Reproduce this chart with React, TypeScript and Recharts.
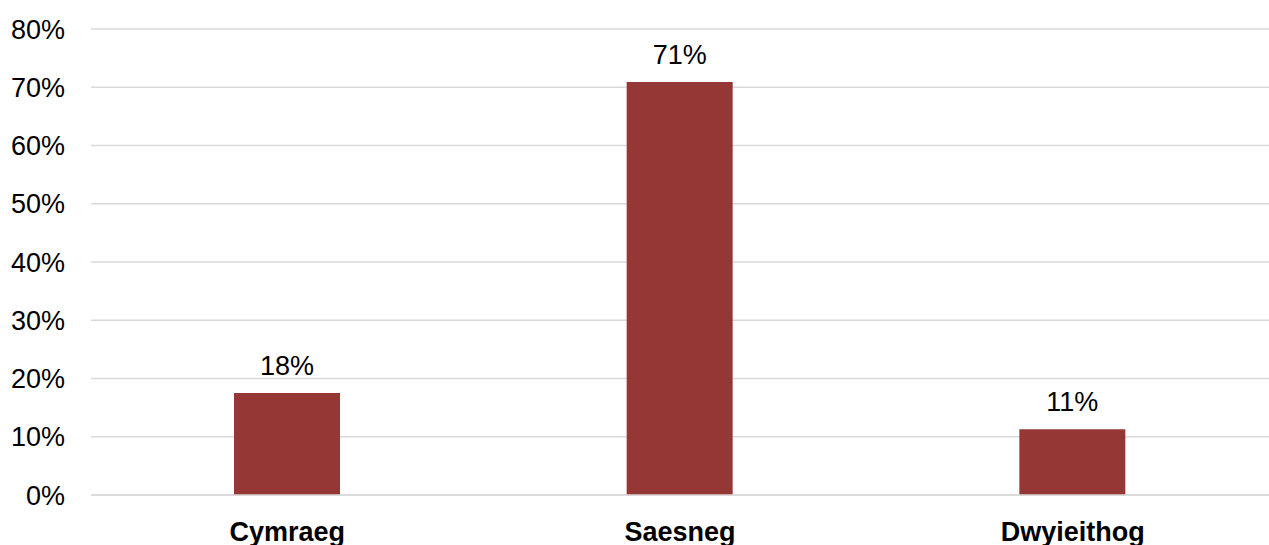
import React from "react";
import { BarChart, Bar, XAxis, YAxis, CartesianGrid, LabelList } from "recharts";

const categories = ["Cymraeg", "Saesneg", "Dwyieithog"];
const values = [17.5, 70.9, 11.3];
const yTicks = [0, 10, 20, 30, 40, 50, 60, 70, 80];

const data = categories.map((name, i) => ({ name, value: values[i] }));

const FONT = "'Liberation Sans', Arial, sans-serif";

export default function App() {
  return (
    <div style={{ position: "absolute", left: 0, top: 0, fontFamily: FONT }}>
      <BarChart
        width={1269}
        height={545}
        data={data}
        margin={{ top: 29, right: 0, left: 0, bottom: 0 }}
        barSize={106}
      >
        <CartesianGrid vertical={false} stroke="#d9d9d9" strokeWidth={1.5} />
        <XAxis
          dataKey="name"
          height={50}
          tickLine={false}
          axisLine={{ stroke: "#d9d9d9", strokeWidth: 1.5 }}
          tickMargin={21}
          interval={0}
          tick={{ fill: "#000", fontSize: 27, fontWeight: "bold", fontFamily: FONT }}
        />
        <YAxis
          width={91}
          domain={[0, 80]}
          ticks={yTicks}
          tickLine={false}
          axisLine={false}
          tickMargin={20}
          tickFormatter={(v: number) => `${v}%`}
          tick={{ fill: "#000", fontSize: 27, fontFamily: FONT }}
        />
        <Bar dataKey="value" fill="#953735" isAnimationActive={false}>
          <LabelList
            dataKey="value"
            position="top"
            offset={18}
            formatter={(v: number) => `${Math.round(v)}%`}
            style={{ fill: "#000", fontSize: 27, fontFamily: FONT }}
          />
        </Bar>
      </BarChart>
    </div>
  );
}
